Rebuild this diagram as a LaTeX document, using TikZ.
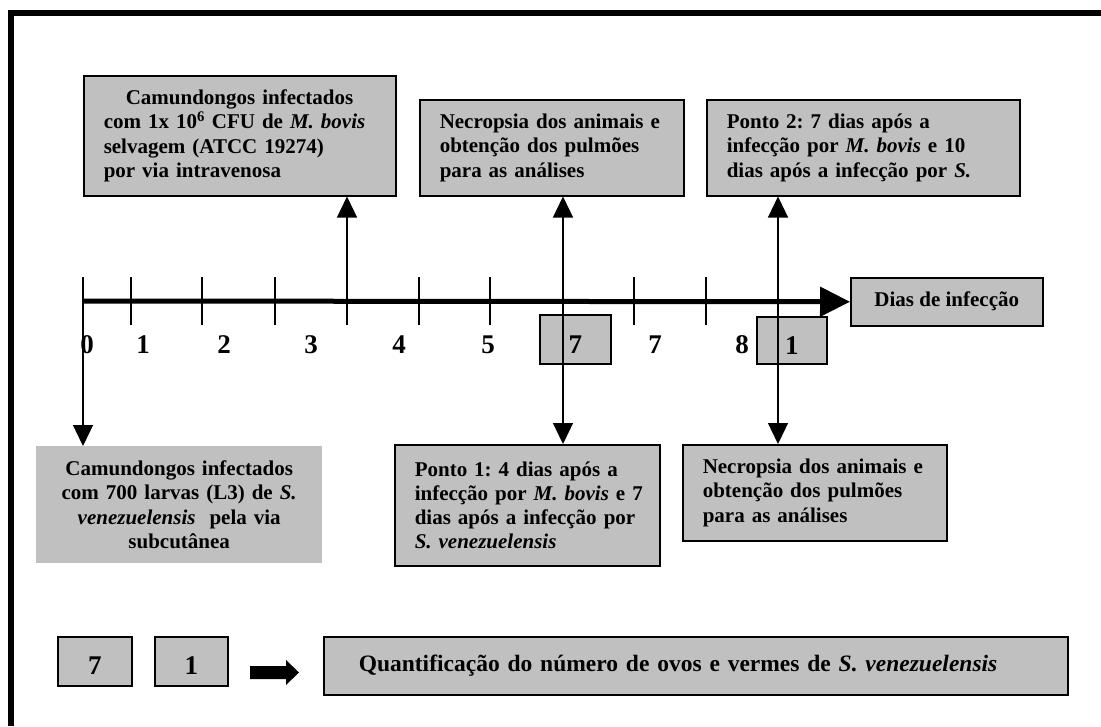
\documentclass[tikz,border=0pt]{standalone}
\usepackage{fontspec}
\setmainfont{Liberation Serif}
\frenchspacing
\usetikzlibrary{arrows.meta}
\definecolor{boxgray}{HTML}{C0C0C0}
\tikzset{
  box/.style={draw, line width=1.5pt, fill=boxgray, anchor=north west, inner xsep=20pt, inner ysep=0pt,
    align=left, font=\fontsize{21}{24.2}\selectfont\bfseries},
  nobox/.style={fill=boxgray, anchor=north west, inner xsep=10pt, inner ysep=0pt,
    align=center, font=\fontsize{21}{24.2}\selectfont\bfseries},
  daybox/.style={draw, line width=1.5pt, fill=boxgray, anchor=north west, inner sep=0pt,
    text height=28pt, text depth=0pt, font=\fontsize{27}{30}\selectfont\bfseries},
  day/.style={anchor=base, inner sep=0pt, font=\fontsize{27}{30}\selectfont\bfseries},
  arr/.style={line width=1.3pt, -{Triangle[width=20pt,length=21pt]}},
  arrboth/.style={line width=1.3pt, {Triangle[width=20pt,length=21pt]}-{Triangle[width=20pt,length=21pt]}}
}
\begin{document}
\begin{tikzpicture}[x=1pt,y=-1pt]
\useasboundingbox (0,0) rectangle (1101,726);
\draw [line width=6pt] (10.5,726) -- (10.5,13) -- (1101,13);

% upper boxes
\node [box, text width=272pt, minimum width=312pt, minimum height=120pt] (cfu) at (83,75)
  {\hspace*{22pt}Camundongos infectados\\\mbox{com 1x 10\textsuperscript{6} CFU de \textit{M. bovis}}\\selvagem (ATCC 19274)\\por via intravenosa};
\node [box, text width=224pt, minimum width=264pt, minimum height=96pt] (necroA) at (419,99)
  {Necropsia dos animais e\\obtenção dos pulmões\\para as análises};
\node [box, text width=273pt, minimum width=313pt, minimum height=96pt] (pontoB) at (706,99)
  {Ponto 2: 7 dias após a\\\mbox{infecção por \textit{M. bovis} e 10}\\\mbox{dias após a infecção por \textit{S.}}};

% time line
\node [box, align=center, inner xsep=0pt, minimum width=192pt, minimum height=48pt] (dias) at (850,277) {Dias de infecção};
\coordinate (t0) at (83,301);
\coordinate (t0top) at (83,277);
\coordinate (t4) at (347,301);
\coordinate (p1) at (563,301);
\coordinate (p2) at (778,301);
\foreach \x in {83,131,202,275,347,419,490,634,706}
  \draw [line width=1.3pt] (\x,277) -- (\x,325);
\draw [line width=5pt, -{Triangle[width=29pt,length=30pt]}] (t0) -- (dias.west);

\node [day] (d0) at (87,353) {0};
\node [day] (d1) at (143,353) {1};
\node [day] (d2) at (224,353) {2};
\node [day] (d3) at (311,353) {3};
\node [day] (d4) at (399,353) {4};
\node [day] (d5) at (488,353) {5};
\node [daybox, minimum width=71pt, minimum height=49pt] (d7a) at (539,314) {7};
\node [day] (d7b) at (655,353) {7};
\node [day] (d8) at (742,353) {8};
\node [daybox, minimum width=70pt, minimum height=47pt] (d10) at (756,316) {1};

% lower boxes
\node [nobox, text width=266pt, minimum width=286pt, minimum height=117pt] (larvas) at (36,446)
  {Camundongos infectados\\com 700 larvas (L3) de \textit{S.}\\\textit{venezuelensis}\ \ pela via\\subcutânea};
\node [box, text width=225pt, minimum width=265pt, minimum height=121pt] (pontoA) at (394,444)
  {Ponto 1: 4 dias após a\\\mbox{infecção por \textit{M. bovis} e 7}\\\mbox{dias após a infecção por}\\\textit{S. venezuelensis}};
\node [box, text width=224pt, minimum width=264pt, minimum height=96pt] (necroB) at (682,444)
  {Necropsia dos animais e\\obtenção dos pulmões\\para as análises};

\draw [arr] (t4) -- (t4 |- cfu.south);
\draw [arr] (t0top) -- (t0top |- larvas.north);
\draw [arrboth] (p1 |- necroA.south) -- (p1 |- pontoA.north);
\draw [arrboth] (p2 |- pontoB.south) -- (p2 |- necroB.north);

% legend
\node [daybox, text height=27pt, minimum width=74pt, minimum height=49pt] (k7) at (57,636) {7};
\node [daybox, text height=27pt, minimum width=73pt, minimum height=49pt] (k1) at (154,636) {1};
\fill (250,666) -- (286,666) -- (286,660) -- (299,672.5) -- (286,685) -- (286,679) -- (250,679) -- cycle;
\node [box, inner xsep=35pt, text width=674pt, minimum width=744pt, minimum height=58pt,
  font=\fontsize{23.5}{27}\selectfont\bfseries] (quant) at (323,636)
  {Quantificação do número de ovos e vermes de \textit{S. venezuelensis}};
\end{tikzpicture}
\end{document}
